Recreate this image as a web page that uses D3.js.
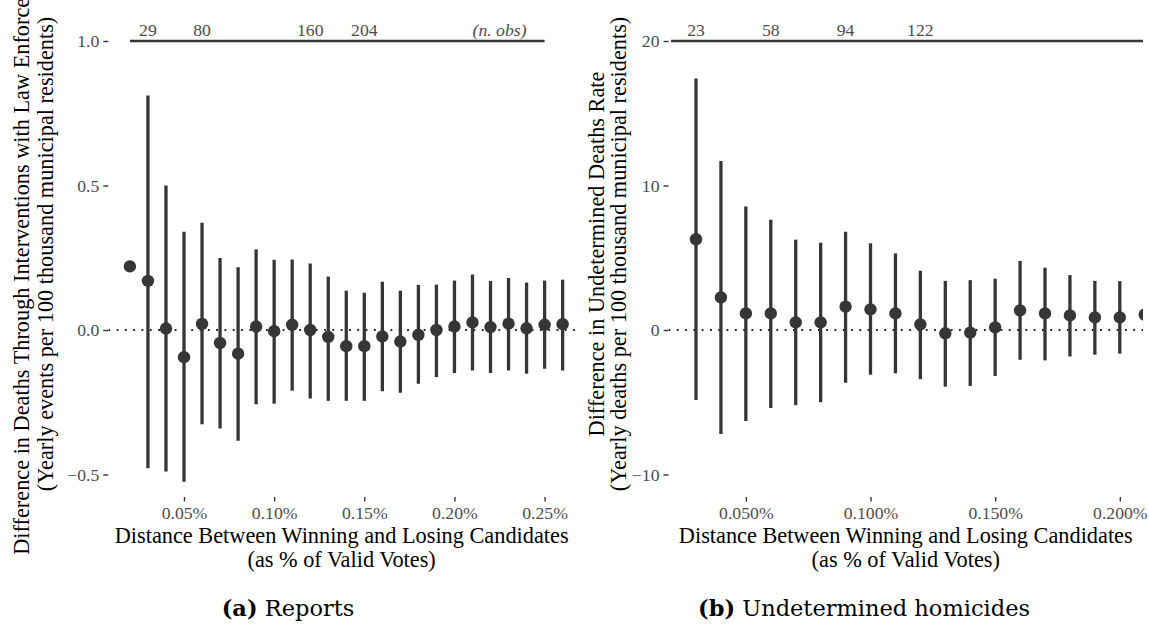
<!DOCTYPE html>
<html>
<head>
<meta charset="utf-8">
<script src="https://cdn.jsdelivr.net/npm/d3@7"></script>
<style>
  body { margin: 0; background: #fff; }
</style>
</head>
<body>
<svg id="fig" width="1149" height="624"></svg>
<script>
// ---- panel (a): reports ----
const cutoffsA = [0.02, 0.03, 0.04, 0.05, 0.06, 0.07, 0.08, 0.09, 0.10, 0.11, 0.12, 0.13,
  0.14, 0.15, 0.16, 0.17, 0.18, 0.19, 0.20, 0.21, 0.22, 0.23, 0.24, 0.25, 0.26];
const estA = [0.22, 0.17, 0.005, -0.094, 0.021, -0.045, -0.082, 0.012, -0.004, 0.018, 0.0, -0.024,
  -0.056, -0.056, -0.022, -0.04, -0.017, 0.0, 0.012, 0.026, 0.01, 0.022, 0.006, 0.018, 0.02];
const lowA = [null, -0.478, -0.49, -0.525, -0.326, -0.341, -0.383, -0.257, -0.255, -0.21, -0.237, -0.245,
  -0.245, -0.245, -0.212, -0.217, -0.186, -0.163, -0.149, -0.14, -0.149, -0.14, -0.151, -0.134, -0.14];
const highA = [null, 0.811, 0.50, 0.34, 0.371, 0.249, 0.217, 0.279, 0.243, 0.244, 0.23, 0.185,
  0.136, 0.129, 0.167, 0.136, 0.156, 0.157, 0.171, 0.192, 0.17, 0.18, 0.164, 0.171, 0.174];
const nobsAtA = [0.03, 0.06, 0.12, 0.15];
const nobsA = ["29", "80", "160", "204"];
const yTicksA = [-0.5, 0, 0.5, 1];
const xTicksA = [0.05, 0.10, 0.15, 0.20, 0.25];

// ---- panel (b): undetermined homicides ----
const cutoffsB = [0.03, 0.04, 0.05, 0.06, 0.07, 0.08, 0.09, 0.10, 0.11, 0.12, 0.13,
  0.14, 0.15, 0.16, 0.17, 0.18, 0.19, 0.20, 0.21];
const estB = [6.28, 2.26, 1.15, 1.15, 0.53, 0.53, 1.61, 1.43, 1.15, 0.39, -0.23,
  -0.18, 0.18, 1.36, 1.15, 1.01, 0.87, 0.87, 1.06];
const lowB = [-4.84, -7.2, -6.3, -5.4, -5.2, -5.0, -3.65, -3.1, -3.0, -3.4, -3.92,
  -3.87, -3.18, -2.06, -2.1, -1.83, -1.71, -1.64, -1.5];
const highB = [17.4, 11.69, 8.55, 7.63, 6.25, 6.03, 6.8, 6.0, 5.3, 4.1, 3.4,
  3.45, 3.55, 4.78, 4.31, 3.8, 3.4, 3.38, 3.4];
const nobsAtB = [0.03, 0.06, 0.09, 0.12];
const nobsB = ["23", "58", "94", "122"];
const yTicksB = [-10, 0, 10, 20];
const xTicksB = [0.05, 0.10, 0.15, 0.20];

const INK = "#363636";
const GREY = "#4d4d4d";
const SERIF = "'Liberation Serif', 'Times New Roman', serif";

const svg = d3.select("#fig");

function drawPanel(p) {
  const g = svg.append("g");
  const x = d3.scaleLinear().domain(p.xDomain).range(p.xRange);
  const y = d3.scaleLinear().domain(p.yDomain).range(p.yRange);

  // clip to the panel box
  g.append("clipPath").attr("id", p.id + "-clip")
    .append("rect")
    .attr("x", p.left).attr("y", 0)
    .attr("width", p.clipRight - p.left).attr("height", p.bottom);
  const plot = g.append("g").attr("clip-path", `url(#${p.id}-clip)`);

  // dotted zero line
  plot.append("line")
    .attr("x1", p.left).attr("x2", p.clipRight)
    .attr("y1", y(0)).attr("y2", y(0))
    .attr("stroke", "#222").attr("stroke-width", 1.8)
    .attr("stroke-dasharray", "1.8 6.5");

  // n. obs bar on top
  plot.append("line")
    .attr("x1", x(p.lineFrom)).attr("x2", x(p.lineTo))
    .attr("y1", y(p.yDomain[1])).attr("y2", y(p.yDomain[1]))
    .attr("stroke", INK).attr("stroke-width", 2.6);

  plot.selectAll(".nobs")
    .data(p.nobs)
    .enter().append("text")
    .attr("x", (d, i) => x(p.nobsAt[i]))
    .attr("y", 35.5)
    .attr("text-anchor", "middle")
    .attr("font-size", 17.7)
    .attr("fill", GREY)
    .style("font-family", SERIF)
    .text(d => d);

  if (p.nobsNote) {
    plot.append("text")
      .attr("x", x(p.nobsNote)).attr("y", 35.5)
      .attr("text-anchor", "middle")
      .attr("font-size", 17.7)
      .attr("font-style", "italic")
      .attr("fill", GREY)
      .style("font-family", SERIF)
      .text("(n. obs)");
  }

  const rows = p.cut.map((c, i) => ({ c: c, est: p.est[i], lo: p.lo[i], hi: p.hi[i] }));

  // confidence intervals
  plot.selectAll(".ci")
    .data(rows.filter(d => d.lo !== null))
    .enter().append("line")
    .attr("x1", d => x(d.c)).attr("x2", d => x(d.c))
    .attr("y1", d => y(d.lo)).attr("y2", d => y(d.hi))
    .attr("stroke", INK).attr("stroke-width", 3.3);

  // point estimates
  plot.selectAll(".pt")
    .data(rows)
    .enter().append("circle")
    .attr("cx", d => x(d.c)).attr("cy", d => y(d.est))
    .attr("r", 6.2)
    .attr("fill", INK);

  // y axis
  const yAxis = g.append("g")
    .attr("transform", `translate(${p.left},0)`)
    .call(d3.axisLeft(y).tickValues(p.yTicks).tickSize(5).tickPadding(4)
      .tickFormat(p.yFormat));
  yAxis.select(".domain").remove();
  yAxis.selectAll(".tick line").attr("stroke", "#333").attr("stroke-width", 1.4);
  yAxis.selectAll(".tick text")
    .style("font-family", SERIF)
    .attr("font-size", 17.7).attr("fill", GREY);

  // x axis
  const xAxis = g.append("g")
    .attr("transform", `translate(0,${p.bottom})`)
    .call(d3.axisBottom(x).tickValues(p.xTicks).tickSize(4.5).tickPadding(5)
      .tickFormat(p.xFormat));
  xAxis.select(".domain").remove();
  xAxis.selectAll(".tick line").attr("stroke", "#333").attr("stroke-width", 1.4);
  xAxis.selectAll(".tick text")
    .style("font-family", SERIF)
    .attr("font-size", 17.7).attr("fill", GREY);

  // x title
  const cx = (p.left + p.clipRight) / 2;
  [["Distance Between Winning and Losing Candidates", 543], ["(as % of Valid Votes)", 567]]
    .forEach(([t, yy]) => {
      g.append("text").attr("x", cx).attr("y", yy)
        .attr("text-anchor", "middle").attr("font-size", 22.3).attr("fill", "#000")
        .style("font-family", SERIF)
        .text(t);
    });

  // y title, two lines
  p.yTitle.forEach((t, i) => {
    g.append("text")
      .attr("transform", `translate(${p.yTitleX[i]},254) rotate(-90)`)
      .attr("dy", "0.35em")
      .attr("text-anchor", "middle").attr("font-size", 22.3).attr("fill", "#000")
      .style("font-family", SERIF)
      .text(t);
  });

  // sub-figure caption
  const cap = svg.append("text")
    .attr("x", p.captionX).attr("y", 616)
    .attr("text-anchor", "middle")
    .attr("font-size", 22.5)
    .style("font-family", "'DejaVu Serif', serif");
  cap.append("tspan").attr("font-weight", "bold").text(p.captionTag);
  cap.append("tspan").text(" " + p.caption);
}

drawPanel({
  id: "a",
  cut: cutoffsA, est: estA, lo: lowA, hi: highA,
  nobs: nobsA, nobsAt: nobsAtA, nobsNote: 0.225,
  lineFrom: 0.02, lineTo: 0.25,
  xDomain: [0.05, 0.25], xRange: [184, 544.6],
  yDomain: [-0.5, 1.0], yRange: [474.5, 41],
  left: 108.3, clipRight: 575, bottom: 497,
  yTicks: yTicksA, xTicks: xTicksA,
  yFormat: d => d3.format(".1f")(d).replace("-", "\u2212"),
  xFormat: d => d3.format(".2f")(d) + "%",
  yTitle: ["Difference in Deaths Through Interventions with Law Enforcement",
    "(Yearly events per 100 thousand municipal residents)"],
  yTitleX: [21, 45],
  captionX: 288, captionTag: "(a)", caption: "Reports"
});

drawPanel({
  id: "b",
  cut: cutoffsB, est: estB, lo: lowB, hi: highB,
  nobs: nobsB, nobsAt: nobsAtB, nobsNote: null,
  lineFrom: 0.02, lineTo: 0.22,
  xDomain: [0.03, 0.20], xRange: [696, 1119.8],
  yDomain: [-10, 20], yRange: [474.5, 41],
  left: 668.5, clipRight: 1143, bottom: 497,
  yTicks: yTicksB, xTicks: xTicksB,
  yFormat: d => String(d).replace("-", "\u2212"),
  xFormat: d => d3.format(".3f")(d) + "%",
  yTitle: ["Difference in Undetermined Deaths Rate",
    "(Yearly deaths per 100 thousand municipal residents)"],
  yTitleX: [596, 618],
  captionX: 864, captionTag: "(b)", caption: "Undetermined homicides"
});
</script>
</body>
</html>
